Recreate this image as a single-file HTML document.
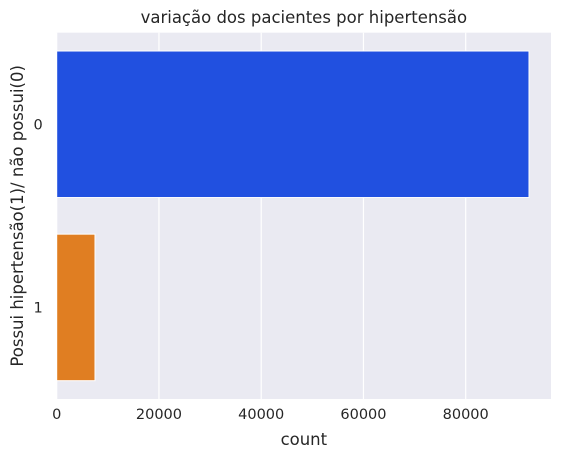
<!DOCTYPE html>
<html><head><meta charset="utf-8"><style>
html,body{margin:0;padding:0;background:#fff;width:562px;height:463px;overflow:hidden}
svg{display:block;font-family:"DejaVu Sans","Liberation Sans",sans-serif}
.tick{font-size:14.5px;fill:#262626}
.ttl{font-size:16.5px;fill:#262626}
</style></head><body>
<svg id="chart" width="562" height="463"></svg>
<script>
const categories = ["0", "1"];
const counts = [92380, 7490];
const barColors = ["#2150e0", "#e07e22"];
const xTicks = [0, 20000, 40000, 60000, 80000];

const NS = "http://www.w3.org/2000/svg";
const svg = document.getElementById("chart");
const L = 56.7, R = 551, T = 32.7, B = 399;
const xMax = 80000 * (R - L) / (465.7 - L);
function xs(v){ return L + v / xMax * (R - L); }
function ys(i){ return T + (i + 0.5) / categories.length * (B - T); }
const band = (B - T) / categories.length;
function mk(tag, attrs, parent){
  const e = document.createElementNS(NS, tag);
  for (const k in attrs) e.setAttribute(k, attrs[k]);
  (parent || svg).appendChild(e);
  return e;
}
const bg = mk("rect", {x:L, y:T, width:R-L, height:B-T, fill:"#eaeaf2"});


xTicks.forEach(t => {
  const g = mk("line", {x1:xs(t), x2:xs(t), y1:T, y2:B, stroke:"#fff", "stroke-width":1.2});
  
  
  const lb = mk("text", {x:xs(t), y:B+20, "text-anchor":"middle", "class":"tick"});
  lb.textContent = t;
  
  
});
categories.forEach((c, i) => {
  const h = band * 0.8;
  const b = mk("rect", {x:xs(0), y:ys(i)-h/2, width:xs(counts[i])-xs(0), height:h, fill:barColors[i], stroke:"#fff", "stroke-width":1});
  
  
  const lb = mk("text", {x:L-14, y:ys(i)+5, "text-anchor":"end", "class":"tick"});
  lb.textContent = c;
  
  
});
const title = mk("text", {x:(L+R)/2, y:23, "text-anchor":"middle", "class":"ttl"});
title.textContent = "variação dos pacientes por hipertensão";


const xt = mk("text", {x:(L+R)/2, y:445, "text-anchor":"middle", "class":"ttl"});
xt.textContent = "count";


const yt = mk("text", {x:0, y:0, "text-anchor":"middle", "class":"ttl", transform:"translate(23,"+((T+B)/2)+") rotate(-90)"});
yt.textContent = "Possui hipertensão(1)/ não possui(0)";


</script>
</body></html>
